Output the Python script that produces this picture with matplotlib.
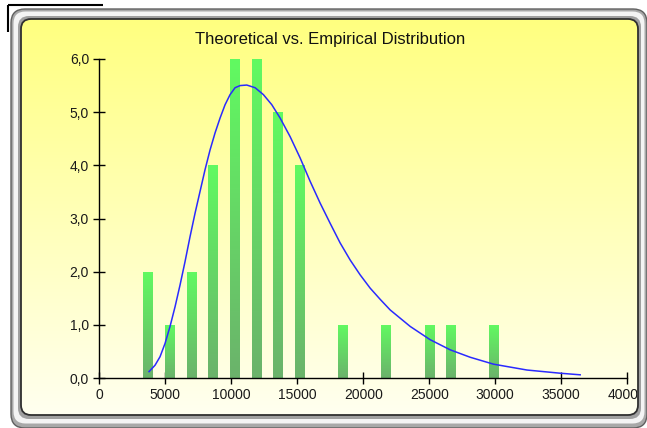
import numpy as np
import matplotlib
matplotlib.use("Agg")
import matplotlib.pyplot as plt
from matplotlib.patches import FancyBboxPatch
from matplotlib.colors import LinearSegmentedColormap
from matplotlib.transforms import Bbox, TransformedBbox

plt.rcParams['font.family'] = ['Liberation Sans', 'DejaVu Sans']

title = "Theoretical vs. Empirical Distribution"

# Empirical histogram (bin centers and counts)
bin_centers = [3680, 5320, 6960, 8600, 10240, 11880, 13520, 15160, 16800,
               18440, 20080, 21720, 23360, 25000, 26640, 28280, 29920]
counts = [2, 1, 2, 4, 6, 6, 5, 4, 0, 1, 0, 1, 0, 1, 1, 0, 1]

# Theoretical curve
curve_x = [3756, 4211, 4590, 4970, 5349, 5729, 6108, 6487, 6867, 7246,
           7625, 8005, 8384, 8763, 9143, 9522, 9901, 10281, 10660, 11168,
           11798, 12428, 13065, 13695, 14454, 15212, 15971, 16730, 17489,
           18248, 19006, 19765, 20524, 21282, 22041, 23559, 25076, 26593,
           28111, 29879, 32413, 34932, 36449]
curve_y = [0.12, 0.24, 0.40, 0.65, 0.97, 1.34, 1.75, 2.19, 2.66, 3.10,
           3.51, 3.92, 4.29, 4.61, 4.89, 5.14, 5.33, 5.46, 5.50, 5.51,
           5.46, 5.33, 5.14, 4.89, 4.54, 4.14, 3.70, 3.29, 2.91,
           2.54, 2.22, 1.94, 1.69, 1.48, 1.28, 0.97, 0.72, 0.53,
           0.39, 0.26, 0.15, 0.09, 0.06]

x_ticks = [0, 5000, 10000, 15000, 20000, 25000, 30000, 35000, 40000]
x_tick_labels = ["0", "5000", "10000", "15000", "20000", "25000", "30000", "35000", "40000"]
y_ticks = [0, 1, 2, 3, 4, 5, 6]
y_tick_labels = ["0,0", "1,0", "2,0", "3,0", "4,0", "5,0", "6,0"]

W, H = 647, 428
fig = plt.figure(figsize=(W / 100, H / 100), dpi=100)
fig.patch.set_facecolor('white')

# ---- decoration layer (pixel coords) ----
deco = fig.add_axes([0, 0, 1, 1], zorder=0)
deco.set_xlim(0, W)
deco.set_ylim(H, 0)
deco.axis('off')

# top-left black L line
deco.plot([8, 103], [5, 5], color='black', lw=1.5, solid_capstyle='butt')
deco.plot([8, 8], [5, 32], color='black', lw=1.5, solid_capstyle='butt')

# outer bevel frame
outer = FancyBboxPatch((11, 9), 636, 419, boxstyle="round,pad=0,rounding_size=14",
                       facecolor='#a8a8a8', edgecolor='#606060', lw=1.0)
deco.add_patch(outer)
mid = FancyBboxPatch((13.5, 11.5), 631, 412, boxstyle="round,pad=0,rounding_size=12",
                     facecolor='#f4f4f4', edgecolor='none')
deco.add_patch(mid)
inner_shade = FancyBboxPatch((18, 16), 623, 403, boxstyle="round,pad=0,rounding_size=11",
                             facecolor='#a0a0a0', edgecolor='none')
deco.add_patch(inner_shade)

# yellow panel with gradient
panel = FancyBboxPatch((21, 19), 617, 396, boxstyle="round,pad=0,rounding_size=10",
                       facecolor='none', edgecolor='#303030', lw=1.3, zorder=3)
deco.add_patch(panel)
ycmap = LinearSegmentedColormap.from_list('y', [(1, 1, 0.50), (1, 1, 0.94)])
grad = np.linspace(0, 1, 256).reshape(-1, 1)
im = deco.imshow(grad, cmap=ycmap, extent=(21, 638, 415, 19), aspect='auto',
                 origin='upper', zorder=2)
clip_patch = FancyBboxPatch((21, 19), 617, 396, boxstyle="round,pad=0,rounding_size=10",
                            facecolor='none', edgecolor='none', transform=deco.transData)
deco.add_patch(clip_patch)
im.set_clip_path(clip_patch)
deco.set_xlim(0, W)
deco.set_ylim(H, 0)

fig.text(330 / W, 1 - 44 / H, title, ha='center', va='baseline', fontsize=12, color='#111111')

# ---- main axes ----
left, right = 99.5 / W, 627 / W
bottom, top = 1 - 378 / H, 1 - 59 / H
ax = fig.add_axes([left, bottom, right - left, top - bottom], zorder=1)
ax.set_facecolor('none')

gcmap = LinearSegmentedColormap.from_list('g', [(0.42, 0.70, 0.42), (0.38, 0.98, 0.38)])
bar_w = 700
bars = ax.bar(bin_centers, counts, width=bar_w, color='none', edgecolor='none', zorder=2)
ggrad = np.linspace(0, 1, 128).reshape(-1, 1)
for b, c, h in zip(bars, bin_centers, counts):
    if h <= 0:
        continue
    gi = ax.imshow(ggrad, cmap=gcmap, extent=(c - bar_w / 2, c + bar_w / 2, 0, h),
                   aspect='auto', origin='lower', zorder=2)
    gi.set_clip_path(b)
ax.set_xlim(0, 40000)
ax.set_ylim(0, 6)

ax.plot(curve_x, curve_y, color='#2a2aff', lw=1.1, zorder=3)

for s in ['top', 'right']:
    ax.spines[s].set_visible(False)
for s in ['left', 'bottom']:
    ax.spines[s].set_color('black')
    ax.spines[s].set_linewidth(1.0)

ax.set_xticks(x_ticks)
ax.set_xticklabels(x_tick_labels)
ax.set_yticks(y_ticks)
ax.set_yticklabels(y_tick_labels)
ax.tick_params(axis='both', direction='inout', length=9, width=1.0, labelsize=10,
               colors='black', labelcolor='#1a1a1a')
ax.tick_params(axis='x', pad=3)
ax.tick_params(axis='y', pad=3)

# clip last x tick label at the panel edge
bb = TransformedBbox(Bbox([[0, 0], [637 / W, 1]]), fig.transFigure)
for lab in ax.get_xticklabels():
    lab.set_clip_on(True)
    lab.set_clip_box(bb)

fig.savefig('out.png', dpi=100)
